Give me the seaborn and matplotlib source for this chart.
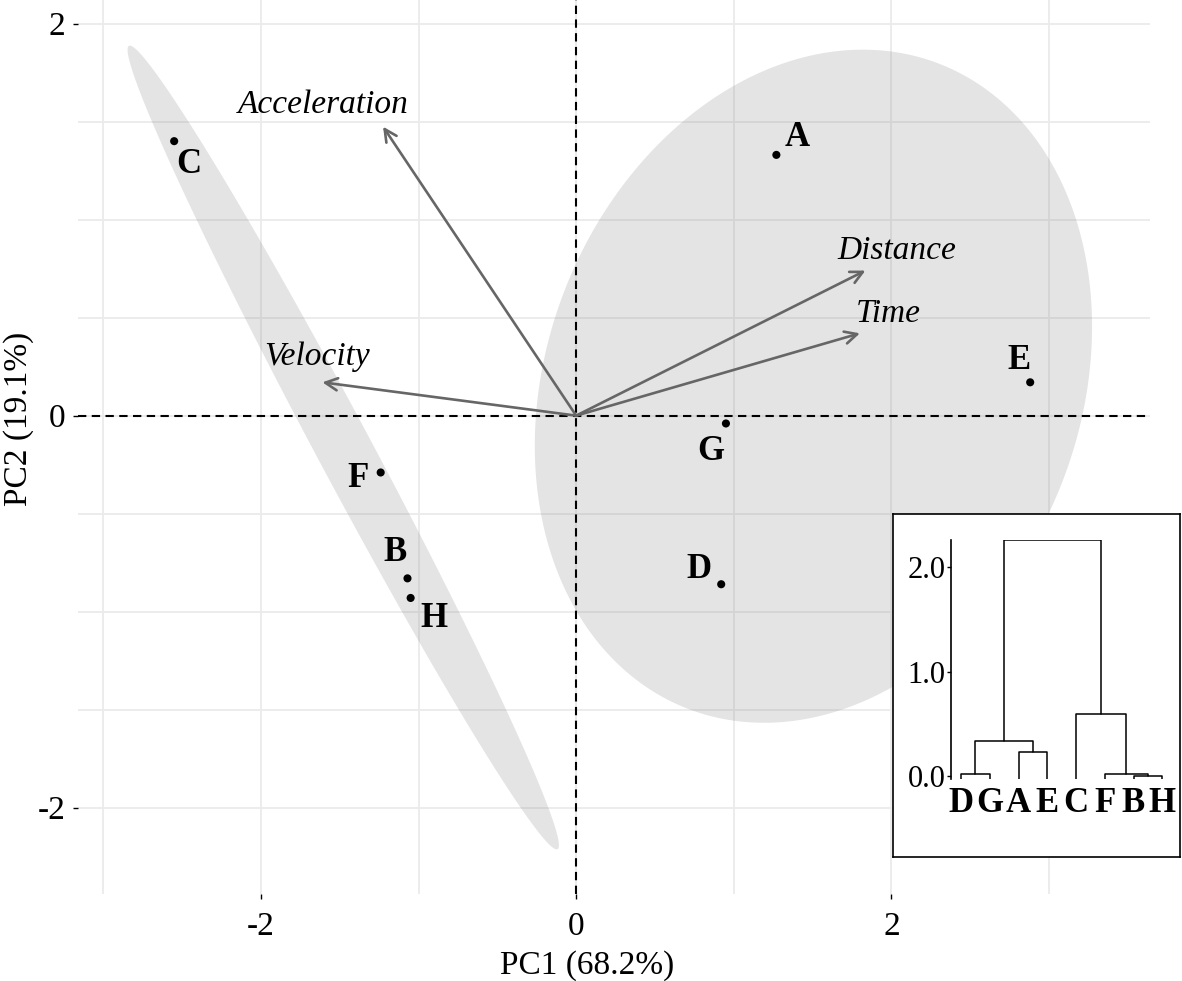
import numpy as np
import pandas as pd
import seaborn as sns
import matplotlib.pyplot as plt

# PCA scores of the eight samples
samples = ["A", "B", "C", "D", "E", "F", "G", "H"]
pc1 = [1.27, -1.07, -2.55, 0.92, 2.88, -1.24, 0.95, -1.05]
pc2 = [1.33, -0.83, 1.40, -0.86, 0.17, -0.29, -0.04, -0.93]
cluster = [1, 2, 2, 1, 1, 2, 1, 2]

# variable loadings (arrow tips)
variables = ["Acceleration", "Distance", "Time", "Velocity"]
load1 = [-1.225, 1.835, 1.80, -1.61]
load2 = [1.474, 0.74, 0.42, 0.17]

# dendrogram: leaf order and merge heights
leaf_order = ["D", "G", "A", "E", "C", "F", "B", "H"]
# merges as (left, right, height); negative = leaf index, positive = earlier merge (1-based)
merges = [(-1, -2, 0.02), (-3, -4, 0.23), (1, 2, 0.33),
          (-7, -8, 0.0), (-6, 4, 0.015), (-5, 5, 0.59), (3, 6, 2.26)]

df = pd.DataFrame({"sample": samples, "PC1": pc1, "PC2": pc2, "cluster": cluster})

sns.set_theme(style="whitegrid")
plt.rcParams["font.family"] = ["Liberation Serif", "DejaVu Serif"]
plt.rcParams["text.color"] = "black"
plt.rcParams["axes.labelcolor"] = "black"
plt.rcParams["xtick.color"] = "black"
plt.rcParams["ytick.color"] = "black"

fig = plt.figure(figsize=(11.82, 9.81), dpi=100)
ax = fig.add_axes([78 / 1182, 1 - 894 / 981, 1072 / 1182, 894 / 981])

# confidence-style ellipses from each cluster's covariance
ELLIPSE_SCALE = 1.9
t = np.linspace(0, 2 * np.pi, 400)
for k, g in df.groupby("cluster"):
    pts = g[["PC1", "PC2"]].to_numpy()
    mu = pts.mean(axis=0)
    cov = np.cov(pts.T)
    L = np.linalg.cholesky(cov)
    circ = np.vstack([np.cos(t), np.sin(t)])
    ell = (L @ circ) * ELLIPSE_SCALE + mu[:, None]
    ax.fill(ell[0], ell[1], color="grey", alpha=0.21, lw=0, zorder=1)

ax.axhline(0, color="black", lw=1.5, ls=(0, (4, 2.6)), zorder=2)
ax.axvline(0, color="black", lw=1.5, ls=(0, (4, 2.6)), zorder=2)

# loading arrows
arrow_label_offsets = {"Acceleration": (-60, 22), "Distance": (31, 20),
                       "Time": (28, 20), "Velocity": (-5, 26)}
for name, x, y in zip(variables, load1, load2):
    ax.annotate("", xy=(x, y), xytext=(0, 0),
                arrowprops=dict(arrowstyle="->", color="#666666", lw=1.9,
                                shrinkA=0, shrinkB=0, mutation_scale=22),
                zorder=3)
    dx, dy = arrow_label_offsets[name]
    ax.annotate(name, xy=(x, y), xytext=(dx * 0.72, dy * 0.72),
                textcoords="offset points", ha="center", va="center",
                fontsize=24, fontstyle="italic", zorder=4)

sns.scatterplot(data=df, x="PC1", y="PC2", color="black", s=34,
                edgecolor="none", ax=ax, zorder=5, legend=False)

point_label_offsets = {"A": (21, 17), "B": (-12, 26), "C": (15, -23), "D": (-22, 15),
                       "E": (-11, 22), "F": (-23, -6), "G": (-15, -28), "H": (23, -21)}
for s, x, y in zip(samples, pc1, pc2):
    dx, dy = point_label_offsets[s]
    ax.annotate(s, xy=(x, y), xytext=(dx * 0.72, dy * 0.72),
                textcoords="offset points", ha="center", va="center",
                fontsize=25, fontweight="bold", zorder=6)

ax.set_xlim(-3.16, 3.64)
ax.set_ylim(-2.44, 2.12)
ax.set_xticks([-2, 0, 2])
ax.set_xticklabels(["-2", "0", "2"])
ax.set_yticks([-2, 0, 2])
ax.set_yticklabels(["-2", "0", "2"])
ax.set_xticks([-3, -1, 1, 3], minor=True)
ax.set_yticks([-1.5, -1, -0.5, 0.5, 1, 1.5], minor=True)
ax.grid(True, which="both", color="#ebebeb", lw=1.3)
ax.set_axisbelow(True)
for sp in ax.spines.values():
    sp.set_visible(False)
ax.tick_params(which="major", length=3.5, width=1, color="black",
               labelsize=24, bottom=True, left=True)
ax.tick_params(axis="x", which="major", pad=9)
ax.tick_params(axis="y", which="major", pad=5.5)
ax.tick_params(which="minor", length=0)
ax.set_facecolor("white")
ax.set_xlabel("PC1 (68.2%)", fontsize=24)
ax.set_ylabel("PC2 (19.1%)", fontsize=24)
ax.xaxis.set_label_coords(0.475, -0.063)
ax.yaxis.set_label_coords(-0.041, 0.532)

# inset dendrogram
box = fig.add_axes([893 / 1182, 1 - 857 / 981, 287 / 1182, 343 / 981])
box.set_xticks([])
box.set_yticks([])
box.set_facecolor("white")
for sp in box.spines.values():
    sp.set_visible(True)
    sp.set_color("black")
    sp.set_linewidth(1.2)
box.grid(False)

ylo, yhi = -0.025, 2.26
inner_bottom = 778.5
inner_top = 540
left_px = 951
leaf_step = 28.76
xlo = 1 - (961 - left_px) / leaf_step
xhi = 8.5
right_px = 961 + (xhi - 1) * leaf_step
dax = fig.add_axes([left_px / 1182, 1 - inner_bottom / 981,
                    (right_px - left_px) / 1182, (inner_bottom - inner_top) / 981])
dax.patch.set_visible(False)
dax.grid(False)
for name in ["top", "right", "bottom"]:
    dax.spines[name].set_visible(False)
dax.spines["left"].set_color("black")
dax.spines["left"].set_linewidth(1.2)

node_x, node_h = [], []
for a, b, h in merges:
    def pos(i):
        if i < 0:
            return -i, ylo
        return node_x[i - 1], node_h[i - 1]
    xa, ha = pos(a)
    xb, hb = pos(b)
    dax.plot([xa, xa, xb, xb], [ha, h, h, hb], color="black", lw=1.1)
    node_x.append((xa + xb) / 2)
    node_h.append(h)

dax.set_xlim(xlo, xhi)
dax.set_ylim(ylo, yhi)
dax.set_yticks([0, 1, 2])
dax.set_yticklabels(["0.0", "1.0", "2.0"])
dax.set_xticks(range(1, len(leaf_order) + 1))
dax.set_xticklabels(leaf_order, fontweight="bold", fontsize=25)
dax.tick_params(axis="x", length=0, pad=6)
dax.tick_params(axis="y", length=3, width=1, color="black", labelsize=22, pad=1, left=True)

fig.savefig("out.png", dpi=100)
